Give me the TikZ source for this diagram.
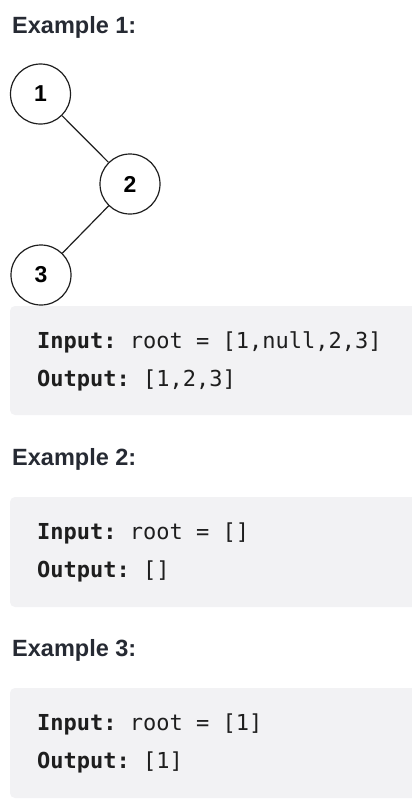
\documentclass[tikz,border=0pt]{standalone}
\usepackage{fontspec}
\setmainfont{Liberation Sans}
\setmonofont{DejaVu Sans Mono}
\usetikzlibrary{positioning}
\definecolor{headcol}{HTML}{262A33}
\definecolor{boxgray}{HTML}{F2F2F4}
\definecolor{codecol}{HTML}{1E1E1E}

\begin{document}
\begin{tikzpicture}[x=1pt,y=-1pt,
  treenode/.style={circle, draw=codecol, line width=1.2pt, minimum size=60pt, inner sep=0pt, font=\fontsize{23}{23}\selectfont\bfseries},
  heading/.style={anchor=base west, inner sep=0pt, text=headcol, font=\fontsize{23.5}{24}\selectfont\bfseries},
  codeline/.style={anchor=base west, inner sep=0pt, text=codecol, font=\fontsize{22}{22}\ttfamily}]
\useasboundingbox (0,0) rectangle (412,804);

% Example 1: tree
\node[heading] (head1) at (12,33) {Example 1:};
\node[treenode] (n1) at (40.5,94) {1};
\node[treenode] (n2) at (130,184) {2};
\node[treenode] (n3) at (41,275) {3};
\draw[codecol, line width=1.2pt] (n1) -- (n2);
\draw[codecol, line width=1.2pt] (n2) -- (n3);

% Example 1: code box
\fill[boxgray, rounded corners=5pt] (10,306) rectangle (430,415);
\node[codeline] (in1) at (37,348) {\textbf{Input:} root = [1,null,2,3]};
\node[codeline] (out1) at (37,386) {\textbf{Output:} [1,2,3]};

% Example 2
\node[heading] (head2) at (12,465) {Example 2:};
\fill[boxgray, rounded corners=5pt] (10,497) rectangle (430,607);
\node[codeline] (in2) at (37,539) {\textbf{Input:} root = []};
\node[codeline] (out2) at (37,577) {\textbf{Output:} []};

% Example 3
\node[heading] (head3) at (12,656) {Example 3:};
\fill[boxgray, rounded corners=5pt] (10,688) rectangle (430,798);
\node[codeline] (in3) at (37,730) {\textbf{Input:} root = [1]};
\node[codeline] (out3) at (37,768) {\textbf{Output:} [1]};
\end{tikzpicture}
\end{document}
